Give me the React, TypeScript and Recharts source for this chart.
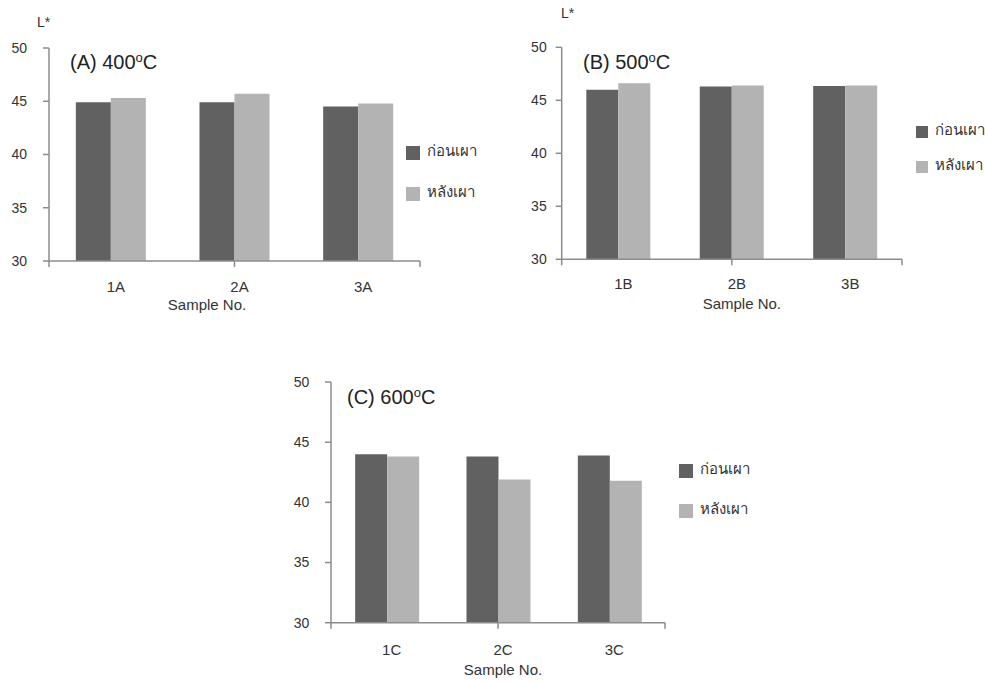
import React from 'react';
import { BarChart, Bar, XAxis, YAxis, Legend } from 'recharts';

const seriesNames = ['ก่อนเผา', 'หลังเผา'];
const samplesA = ['1A', '2A', '3A'];
const beforeA = [44.9, 44.9, 44.5];
const afterA = [45.3, 45.7, 44.8];
const samplesB = ['1B', '2B', '3B'];
const beforeB = [46.0, 46.3, 46.35];
const afterB = [46.6, 46.4, 46.4];
const samplesC = ['1C', '2C', '3C'];
const beforeC = [44.0, 43.8, 43.9];
const afterC = [43.8, 41.9, 41.8];
const yTicks = [30, 35, 40, 45, 50];
const boundaryTicks = [0, 1, 2, 3];

const DARK = '#616161';
const LIGHT = '#b3b3b3';
const AXIS = '#8c8c8c';
const TEXT = '#333333';
const FONT = "'Liberation Sans', Arial, 'Noto Sans', sans-serif";

const build = (samples: string[], before: number[], after: number[]) =>
  samples.map((s, i) => ({ sample: s, before: before[i], after: after[i] }));

const makeLegend = (size: number, pitch: number) => (props: any) => {
  const payload = props.payload || [];
  return (
    <div>
      {payload.map((p: any, i: number) => (
        <div
          key={i}
          style={{
            display: 'flex',
            alignItems: 'center',
            height: size,
            marginBottom: i < payload.length - 1 ? pitch - size : 0,
            whiteSpace: 'nowrap',
          }}
        >
          <span style={{ width: size, height: size, background: p.color, display: 'inline-block', marginRight: 7 }} />
          <span style={{ fontSize: 15, color: TEXT, lineHeight: size + 'px', position: 'relative', top: -2 }}>{p.value}</span>
        </div>
      ))}
    </div>
  );
};

type PanelProps = {
  left: number; top: number; width: number; height: number;
  margin: { top: number; right: number; left: number; bottom: number };
  catHeight: number;
  yTickMargin: number;
  xTickMargin: number;
  sampleDx: number;
  sampleOffset: number;
  legend: { left: number; top: number; size: number; pitch: number };
  data: any[];
};

const BOUND_H = 2;

const Panel = (p: PanelProps) => (
  <div style={{ position: 'absolute', left: p.left, top: p.top }}>
    <BarChart
      width={p.width}
      height={p.height}
      data={p.data}
      margin={p.margin}
      barCategoryGap="21.7%"
      barGap={0}
    >
      <XAxis
        xAxisId="bound"
        type="number"
        domain={[0, 3]}
        ticks={boundaryTicks}
        interval={0}
        tickFormatter={() => ''}
        tickSize={6}
        height={BOUND_H}
        stroke={AXIS}
        axisLine={{ stroke: AXIS, strokeWidth: 1.5 }}
        tickLine={{ stroke: AXIS, strokeWidth: 1.5 }}
      />
      <XAxis
        xAxisId="cat"
        dataKey="sample"
        type="category"
        height={p.catHeight - BOUND_H}
        tickSize={0}
        tickMargin={p.xTickMargin - BOUND_H}
        axisLine={false}
        tickLine={false}
        tick={{ fontSize: 15, fill: TEXT, dx: 5, fontFamily: FONT }}
        label={{ value: 'Sample No.', position: 'insideBottom', offset: p.sampleOffset, dx: p.sampleDx, fontSize: 15, fill: TEXT, fontFamily: FONT }}
      />
      <YAxis
        domain={[30, 50]}
        ticks={yTicks}
        interval={0}
        width={40}
        tickSize={6}
        tickMargin={p.yTickMargin}
        stroke={AXIS}
        axisLine={{ stroke: AXIS, strokeWidth: 1.5 }}
        tickLine={{ stroke: AXIS, strokeWidth: 1.5 }}
        tick={{ fontSize: 14, fill: TEXT, fontFamily: FONT }}
      />
      <Legend
        verticalAlign="middle"
        align="center"
        layout="vertical"
        content={makeLegend(p.legend.size, p.legend.pitch)}
        wrapperStyle={{ left: p.legend.left, top: p.legend.top, width: 90, height: 'auto' }}
      />
      <Bar xAxisId="cat" dataKey="before" name={seriesNames[0]} fill={DARK} isAnimationActive={false} />
      <Bar xAxisId="cat" dataKey="after" name={seriesNames[1]} fill={LIGHT} isAnimationActive={false} />
    </BarChart>
  </div>
);

const Title = ({ x, y, label, temp }: { x: number; y: number; label: string; temp: string }) => (
  <div style={{ position: 'absolute', left: x, top: y - 12, fontSize: 20, lineHeight: '24px', color: '#222', whiteSpace: 'nowrap' }}>
    {label} {temp}
    <span style={{ fontSize: 13, verticalAlign: '7px' }}>o</span>C
  </div>
);

const AxisName = ({ x, y }: { x: number; y: number }) => (
  <div style={{ position: 'absolute', left: x, top: y - 9, fontSize: 14, lineHeight: '18px', color: TEXT }}>L*</div>
);

export default function App() {
  return (
    <div style={{ position: 'absolute', left: 0, top: 0, width: 985, height: 682, background: '#fff', fontFamily: FONT, overflow: 'hidden' }}>
      <Panel
        left={0} top={0} width={490} height={320}
        margin={{ top: 48, right: 70, left: 9, bottom: 0 }}
        catHeight={59}
        yTickMargin={16}
        xTickMargin={20.8}
        sampleDx={-27.5}
        sampleOffset={10.5}
        legend={{ left: 406, top: 146, size: 14, pitch: 41 }}
        data={build(samplesA, beforeA, afterA)}
      />
      <Panel
        left={500} top={0} width={485} height={320}
        margin={{ top: 47.3, right: 83, left: 21.7, bottom: 0 }}
        catHeight={60.7}
        yTickMargin={9}
        xTickMargin={19.5}
        sampleDx={10}
        sampleOffset={10.6}
        legend={{ left: 416, top: 126, size: 12, pitch: 35 }}
        data={build(samplesB, beforeB, afterB)}
      />
      <Panel
        left={270} top={360} width={520} height={322}
        margin={{ top: 22, right: 125, left: 21, bottom: 0 }}
        catHeight={59.3}
        yTickMargin={15.7}
        xTickMargin={22}
        sampleDx={5}
        sampleOffset={6.6}
        legend={{ left: 409, top: 104, size: 14, pitch: 40 }}
        data={build(samplesC, beforeC, afterC)}
      />
      <Title x={70} y={58} label="(A)" temp="400" />
      <Title x={583} y={58} label="(B)" temp="500" />
      <Title x={347} y={393} label="(C)" temp="600" />
      <AxisName x={37} y={21.7} />
      <AxisName x={561} y={13.3} />
    </div>
  );
}
